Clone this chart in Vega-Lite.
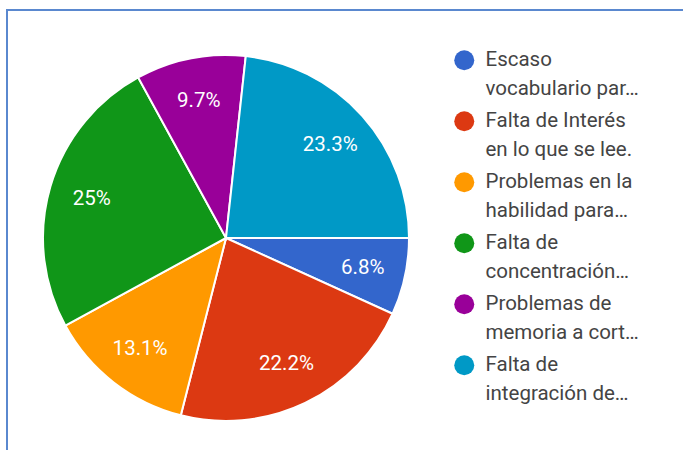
{
  "$schema": "https://vega.github.io/schema/vega-lite/v6.json",
  "autosize": "none",
  "width": 700,
  "height": 460,
  "padding": {"left": 7, "top": 10, "right": 0, "bottom": 0},
  "background": "white",
  "view": {"stroke": "#5a88cf", "strokeWidth": 2, "fill": "white"},
  "config": {
    "font": "Roboto",
    "style": {"guide-label": {"lineHeight": 29}}
  },
  "data": {
    "values": [
      {"cat": "Escaso|vocabulario par…", "value": 6.8, "label": "6.8%", "order": 1},
      {"cat": "Falta de Interés|en lo que se lee.", "value": 22.2, "label": "22.2%", "order": 2},
      {"cat": "Problemas en la|habilidad para…", "value": 13.1, "label": "13.1%", "order": 3},
      {"cat": "Falta de|concentración…", "value": 25, "label": "25%", "order": 4},
      {"cat": "Problemas de|memoria a cort…", "value": 9.7, "label": "9.7%", "order": 5},
      {"cat": "Falta de|integración de…", "value": 23.3, "label": "23.3%", "order": 6}
    ]
  },
  "encoding": {
    "theta": {"field": "value", "type": "quantitative", "stack": true, "scale": {"range": [1.5708, 7.85398]}},
    "order": {"field": "order", "type": "quantitative"},
    "color": {
      "field": "cat",
      "type": "nominal",
      "sort": {"field": "order"},
      "scale": {
        "domain": ["Escaso|vocabulario par…", "Falta de Interés|en lo que se lee.", "Problemas en la|habilidad para…", "Falta de|concentración…", "Problemas de|memoria a cort…", "Falta de|integración de…"],
        "range": ["#3366cc", "#dc3912", "#ff9900", "#109618", "#990099", "#0099c6"]
      },
      "legend": {
        "orient": "none",
        "legendX": 447,
        "legendY": 40,
        "title": null,
        "symbolType": "circle",
        "symbolSize": 400,
        "symbolStrokeWidth": 0,
        "labelFont": "Roboto",
        "labelFontSize": 20.5,
        "labelColor": "#444444",
        "labelBaseline": "middle",
        "labelOffset": 11,
        "labelLimit": 300,
        "rowPadding": 11,
        "labelExpr": "split(datum.label, '|')"
      }
    }
  },
  "layer": [
    {
      "mark": {"type": "arc", "x": 219, "y": 228, "outerRadius": 183, "stroke": "white", "strokeWidth": 2}
    },
    {
      "mark": {"type": "text", "x": 219, "y": 228, "radius": 140, "fontSize": 20.5, "font": "Roboto", "fill": "white"},
      "encoding": {
        "text": {"field": "label"},
        "color": {"value": "white"}
      }
    }
  ]
}
